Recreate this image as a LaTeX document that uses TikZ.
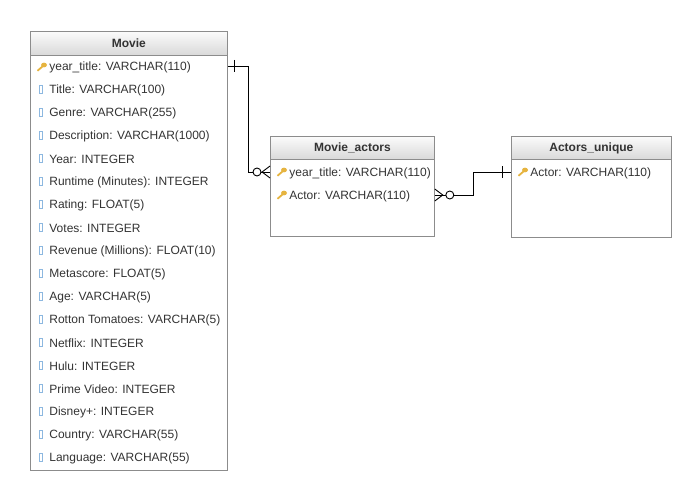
\documentclass[tikz,border=0pt]{standalone}
\usepackage{fontspec}
\setmainfont{Liberation Sans}
\tikzset{
every picture/.style={
line width=0.8pt
}}
\definecolor{keygold}{HTML}{E6B440}
\definecolor{colblue}{HTML}{8DB8E0}
\definecolor{boxgray}{HTML}{8C8C8C}
\definecolor{txt}{HTML}{333333}

\begin{document}
\begin{tikzpicture}[x=1pt, y=-1pt,
table/.style = {rectangle, draw=boxgray, anchor=north west, inner sep=0pt},
head/.style = {rectangle, draw=boxgray, anchor=north west, inner sep=0pt, top color=gray!3, bottom color=gray!30, text=txt, font=\fontsize{12}{14}\selectfont\bfseries},
row/.style = {anchor=west, inner sep=0pt, text=txt, font=\fontsize{12}{14}\selectfont},
link/.style = {black, line width=0.9pt},
key/.pic = {\fill[keygold] (2,-2) ellipse (3 and 2.4);
  \draw[keygold, line width=1.8pt] (1,-1) -- (-4.5,3.8);},
col/.pic = {\draw[colblue, line width=0.7pt] (-1.2,-4) rectangle (1.2,4);}]

\useasboundingbox (0,0) rectangle (700,500);

% Movie table
\node[table, minimum width=197pt, minimum height=439pt] (mv) at (30,31) {};
\node[head, minimum width=197pt, minimum height=24pt] (mvh) at (30,31) {Movie};
\node[row] (mv1) at (49,67) {year\_title: VARCHAR(110)}; \pic at (42,67) {key};
\node[row] (mv2) at (49,90) {Title: VARCHAR(100)}; \pic at (41,89) {col};
\node[row] (mv3) at (49,113) {Genre: VARCHAR(255)}; \pic at (41,112) {col};
\node[row] (mv4) at (49,136) {Description: VARCHAR(1000)}; \pic at (41,135) {col};
\node[row] (mv5) at (49,159) {Year: INTEGER}; \pic at (41,158) {col};
\node[row] (mv6) at (49,182) {Runtime (Minutes): INTEGER}; \pic at (41,181) {col};
\node[row] (mv7) at (49,205) {Rating: FLOAT(5)}; \pic at (41,204) {col};
\node[row] (mv8) at (49,228) {Votes: INTEGER}; \pic at (41,227) {col};
\node[row] (mv9) at (49,251) {Revenue (Millions): FLOAT(10)}; \pic at (41,250) {col};
\node[row] (mv10) at (49,274) {Metascore: FLOAT(5)}; \pic at (41,273) {col};
\node[row] (mv11) at (49,297) {Age: VARCHAR(5)}; \pic at (41,296) {col};
\node[row] (mv12) at (49,320) {Rotton Tomatoes: VARCHAR(5)}; \pic at (41,319) {col};
\node[row] (mv13) at (49,343) {Netflix: INTEGER}; \pic at (41,342) {col};
\node[row] (mv14) at (49,366) {Hulu: INTEGER}; \pic at (41,365) {col};
\node[row] (mv15) at (49,389) {Prime Video: INTEGER}; \pic at (41,388) {col};
\node[row] (mv16) at (49,412) {Disney+: INTEGER}; \pic at (41,411) {col};
\node[row] (mv17) at (49,435) {Country: VARCHAR(55)}; \pic at (41,434) {col};
\node[row] (mv18) at (49,458) {Language: VARCHAR(55)}; \pic at (41,457) {col};

% Movie_actors table
\node[table, minimum width=164pt, minimum height=100pt] (ma) at (270,136) {};
\node[head, minimum width=164pt, minimum height=23pt] (mah) at (270,136) {Movie\_actors};
\node[row] (ma1) at (289,173) {year\_title: VARCHAR(110)}; \pic at (282,172) {key};
\node[row] (ma2) at (289,196) {Actor: VARCHAR(110)}; \pic at (282,195) {key};

% Actors_unique table
\node[table, minimum width=160pt, minimum height=101pt] (au) at (511,136) {};
\node[head, minimum width=160pt, minimum height=23pt] (auh) at (511,136) {Actors\_unique};
\node[row] (au1) at (530,173) {Actor: VARCHAR(110)}; \pic at (523,172) {key};

% relations
\draw[link] (mv.east |- mv1) ++(0,-1) -- ++(21,0) |- ([yshift=1pt]ma.west |- ma1);
\draw[link] (mv.east |- mv1) ++(7,-7) -- ++(0,12);
\draw[link] (ma.west |- ma1) ++(0,-7) -- ++(-8,6) -- ++(8,6);
\draw[link, fill=white] (ma.west |- ma1) ++(-13,-1) circle (4);

\draw[link] (ma.east |- ma2) ++(0,-1) -- ++(39,0) |- ([yshift=1pt]au.west |- au1);
\draw[link] (ma.east |- ma2) ++(0,-7) -- ++(8,6) -- ++(-8,6);
\draw[link, fill=white] (ma.east |- ma2) ++(15,-1) circle (4);
\draw[link] (au.west |- au1) ++(-9,-7) -- ++(0,12);
\end{tikzpicture}
\end{document}
